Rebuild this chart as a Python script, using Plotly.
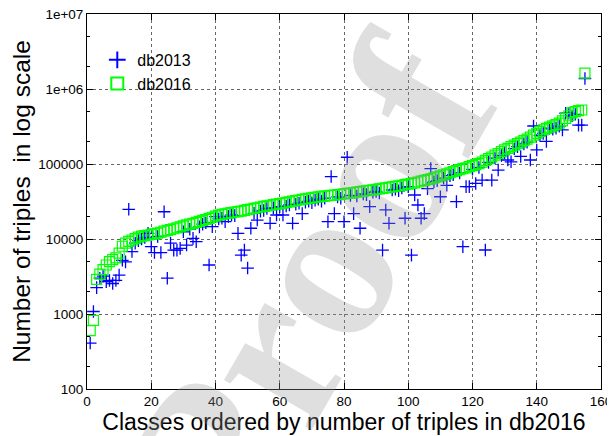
import plotly.graph_objects as go

# classes ordered by size in db2016
classes = list(range(1, 156))

db2016 = [
    600, 820, 2900, 3400, 3900, 4500, 5000, 5300, 5600, 6500,
    8000, 8800, 9300, 9700, 10100, 10600, 10900, 11100, 11300, 11500,
    11700, 12000, 12300, 12700, 13000, 13300, 13700, 14100, 14500, 15000,
    15400, 15800, 16200, 16700, 17200, 17700, 18200, 18800, 19500, 20200,
    20800, 21300, 21700, 22100, 22500, 22900, 23200, 23600, 24100, 24600,
    25100, 25600, 26100, 26700, 27200, 27700, 28200, 28700, 29200, 29600,
    30100, 30700, 31300, 31900, 32500, 33100, 33700, 34300, 34900, 35400,
    35900, 36400, 36900, 37300, 37700, 38100, 38600, 39000, 39500, 40000,
    40500, 41000, 41600, 42200, 42800, 43400, 44000, 44600, 45300, 46000,
    46700, 47400, 48100, 48800, 49600, 50400, 51200, 52000, 53000, 54000,
    55000, 56000, 57500, 59000, 60500, 62000, 63500, 65500, 67500, 69500,
    71500, 74000, 76500, 79000, 81500, 84000, 86500, 89000, 92000, 95000,
    98000, 101000, 106000, 112000, 118000, 124000, 131000, 138000, 146000, 154000,
    162000, 170000, 178000, 187000, 196000, 205000, 215000, 228000, 242000, 256000,
    270000, 285000, 298000, 310000, 322000, 335000, 350000, 375000, 405000, 440000,
    480000, 500000, 515000, 525000, 1630000,
]

db2013 = [
    410, 1080, 2250, 3000, 3200, 2700, 2800, 2550, 2800, 3300,
    5200, 4950, 24900, 6800, 8800, 9500, 10000, 10500, 11900, 7900,
    6600, 10800, 6600, 23100, 3000, 8800, 7100, 7100, 7500, 12500,
    8300, 13500, 10200, 9200, 14500, 15800, 16500, 4500, 14600, 19900,
    18500, 19000, 17000, 20000, 21000, 20500, 11900, 6100, 7100, 4100,
    13900, 22000, 17900, 23500, 24000, 25500, 16200, 26000, 20900, 27000,
    20900, 27500, 28500, 16200, 29000, 30000, 21800, 31000, 32000, 30500,
    33000, 34000, 32000, 35000, 17000, 68000, 21800, 36500, 35000, 17000,
    123000, 38000, 21800, 37500, 13900, 40000, 39000, 27000, 42000, 43000,
    41000, 7100, 24400, 16200, 45000, 46000, 44000, 48000, 18900, 50000,
    6100, 38600, 28400, 18900, 21800, 47000, 87000, 58000, 60000, 36600,
    65000, 52000, 70000, 72000, 31500, 76000, 7900, 50000, 50000, 85000,
    55000, 90000, 61000, 7130, 105000, 61000, 120000, 83000, 130000, 140000,
    113000, 107000, 160000, 170000, 126000, 185000, 195000, 113000, 321000, 154000,
    240000, 255000, 200000, 300000, 290000, 300000, 320000, 285000, 475000, 475000,
    440000, 460000, 330000, 330000, 1380000,
]

y_ticks = [100, 1000, 10000, 100000, 1000000, 10000000]
y_labels = ["100", "1000", "10000", "100000", "1e+06", "1e+07"]
y_minor = [m * 10 ** e for e in range(2, 7) for m in (2, 5)]

FONT = "Liberation Sans, Arial, Helvetica, sans-serif"

fig = go.Figure()
fig.add_trace(go.Scatter(
    x=classes, y=db2013, mode="markers", name="db2013",
    marker=dict(symbol="cross-thin", size=9, line=dict(color="#0000ff", width=1.3)),
))
fig.add_trace(go.Scatter(
    x=classes, y=db2016, mode="markers", name="db2016",
    marker=dict(symbol="square-open", size=10, color="#00ff00", line=dict(width=1.2)),
))

axis_common = dict(
    showline=True, linecolor="black", linewidth=1, mirror="allticks",
    ticks="inside", ticklen=6, tickcolor="black", automargin=False,
    ticklabeloverflow="allow",
    showgrid=True, gridcolor="#666666", gridwidth=1, griddash="dot",
    zeroline=False, tickfont=dict(family=FONT, size=13.5, color="black"),
)

fig.update_xaxes(
    range=[0, 160], dtick=20, tick0=0,
    title=dict(text="Classes ordered by number of triples in db2016",
               font=dict(family=FONT, size=23, color="black"), standoff=0),
    **axis_common,
)
fig.update_yaxes(
    type="log", range=[2, 7], tickvals=y_ticks, ticktext=y_labels,
    minor=dict(tickvals=y_minor, ticks="inside", ticklen=3, tickcolor="black", showgrid=False),
    title=dict(text="Number of triples  in log scale",
               font=dict(family=FONT, size=24.5, color="black"), standoff=2),
    **axis_common,
)

# watermark
fig.add_annotation(
    text="<b>Proof</b>", xref="paper", yref="paper", x=0.43, y=0.27,
    xanchor="center", yanchor="middle",
    showarrow=False, textangle=-60,
    font=dict(family="Liberation Serif, DejaVu Serif, serif", size=220,
              color="rgba(150,150,150,0.3)"),
)

# page body adds an 8px offset, so the figure is 8px smaller than the window
fig.update_layout(
    width=607, height=428,
    margin=dict(l=79, r=14, t=6, b=47),
    plot_bgcolor="white", paper_bgcolor="white",
    showlegend=True,
    legend=dict(x=0.02, y=0.923, xanchor="left", yanchor="top",
                bgcolor="rgba(0,0,0,0)", font=dict(family=FONT, size=16, color="black"),
                itemsizing="constant", tracegroupgap=0),
)

fig.write_html("out.html")
